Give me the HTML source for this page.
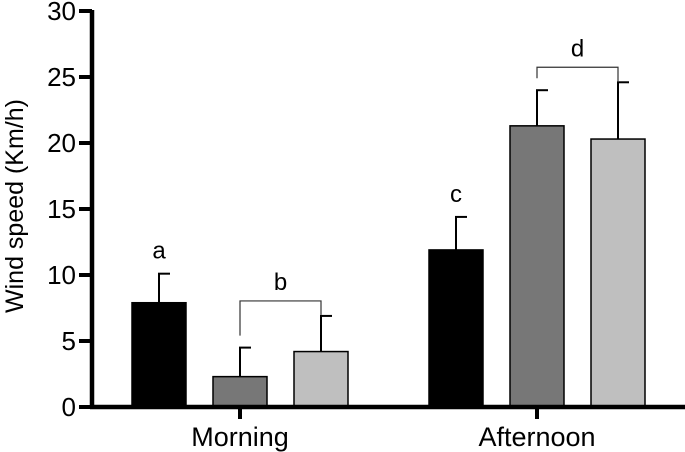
<!DOCTYPE html>
<html><head><meta charset="utf-8"><style>
body{margin:0;background:#fff}
svg{display:block;font-family:"Liberation Sans",Arial,sans-serif}
</style></head><body>
<svg id="c" width="685" height="452"></svg>
<script>
const categories=["Morning","Afternoon"];
const meanA=[7.9,11.9];
const meanB=[2.3,21.3];
const meanC=[4.2,20.3];
const errA=[2.2,2.5];
const errB=[2.2,2.7];
const errC=[2.7,4.3];
const yTicks=[0,5,10,15,20,25,30];
const letters=["a","b","c","d"];
const svg=document.getElementById('c');
const NS="http://www.w3.org/2000/svg";
const y0=407,y1=11,yMax=30;
const Y=v=>y0-(v/yMax)*(y0-y1);
const catX=[240,537];
const offs=[-81,0,81];
const bw=54;
const fills=["#000","#777","#bfbfbf"];
function el(t,a,p){const e=document.createElementNS(NS,t);for(const k in a)e.setAttribute(k,a[k]);(p||svg).appendChild(e);return e;}
const series=[[meanA,errA],[meanB,errB],[meanC,errC]];
categories.forEach((c,i)=>{
  series.forEach((s,j)=>{
    const cx=catX[i]+offs[j],v=s[0][i],e=s[1][i];
    const ln=el('line',{x1:cx,x2:cx,y1:Y(v),y2:Y(v+e),stroke:'#000','stroke-width':2});
    
    
    const cap=el('line',{x1:cx-1,x2:cx+11,y1:Y(v+e),y2:Y(v+e),stroke:'#000','stroke-width':2});
    
    
    const r=el('rect',{x:cx-bw/2,y:Y(v),width:bw,height:y0-Y(v),fill:fills[j],stroke:'#000','stroke-width':1.5});
    
    
  });
  const t=el('text',{x:catX[i],y:446,'font-size':27,'text-anchor':'middle'});
  t.textContent=c;
  
  
  const tk=el('line',{x1:catX[i],x2:catX[i],y1:y0,y2:y0+12,stroke:'#000','stroke-width':4});
  
  
  const la=el('text',{x:catX[i]+offs[0],y:Y(meanA[i]+errA[i])-15,'font-size':24,'text-anchor':'middle'});
  la.textContent=letters[i*2];
  
  
  const xl=catX[i],xr=catX[i]+offs[2];
  const top=Math.max(meanB[i]+errB[i],meanC[i]+errC[i]);
  const by=Y(top)-15;
  const br=el('path',{d:`M${xl},${Y(meanB[i]+errB[i])-12}V${by}H${xr}V${Y(meanC[i]+errC[i])-1}`,fill:'none',stroke:'#333','stroke-width':1.2});
  
  
  const lb=el('text',{x:(xl+xr)/2,y:by-11,'font-size':24,'text-anchor':'middle'});
  lb.textContent=letters[i*2+1];
  
  
});
yTicks.forEach(v=>{
  const l=el('line',{x1:79,x2:92,y1:Y(v),y2:Y(v),stroke:'#000','stroke-width':4});
  
  
  const t=el('text',{x:76,y:Y(v)+9,'font-size':26,'text-anchor':'end'});
  t.textContent=v;
  
  
});
const ya=el('line',{x1:92,x2:92,y1:y1-1,y2:y0+2,stroke:'#000','stroke-width':4.5});


const xa=el('line',{x1:90,x2:685,y1:y0,y2:y0,stroke:'#000','stroke-width':4.5});


const yt=el('text',{x:0,y:0,'font-size':25,'text-anchor':'middle',transform:'translate(23,206) rotate(-90)'});
yt.textContent='Wind speed (Km/h)';


</script>
</body></html>
